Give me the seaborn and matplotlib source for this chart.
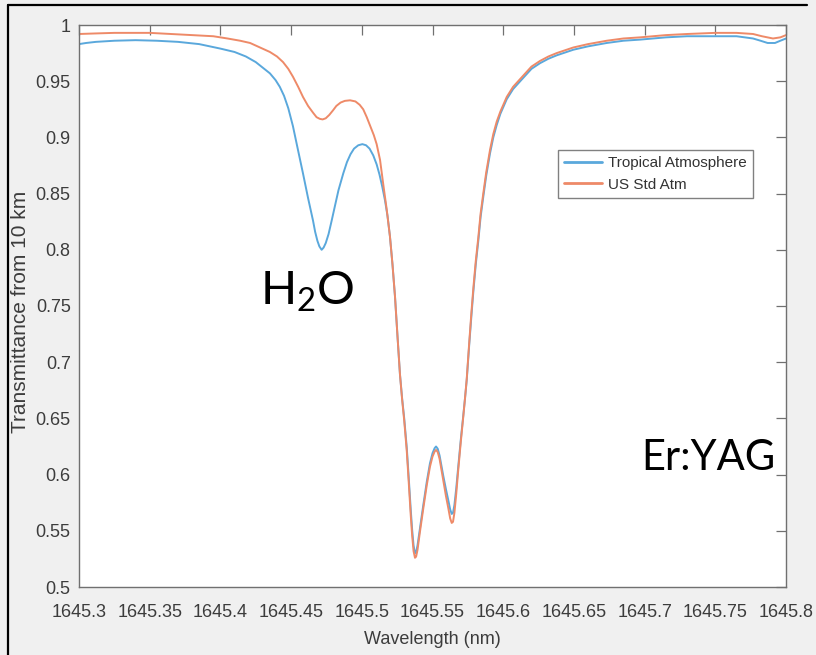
import numpy as np
import pandas as pd
import matplotlib
matplotlib.use("Agg")
import matplotlib.pyplot as plt
from matplotlib.lines import Line2D
import seaborn as sns

# Transmittance over a 10 km path near the 1645.5 nm Er:YAG line
tropical_nm = [
    1645.300, 1645.305, 1645.312, 1645.325, 1645.340, 1645.355, 1645.370,
    1645.385, 1645.400, 1645.410, 1645.418, 1645.425, 1645.430, 1645.435,
    1645.439, 1645.442, 1645.445, 1645.448, 1645.4513, 1645.4545, 1645.4584,
    1645.462, 1645.4655, 1645.467, 1645.4686, 1645.470, 1645.4716, 1645.473,
    1645.4745, 1645.4765, 1645.4787, 1645.481, 1645.4835, 1645.4869,
    1645.4895, 1645.492, 1645.4945, 1645.4975, 1645.5004, 1645.503,
    1645.5055, 1645.5081, 1645.5105, 1645.5125, 1645.5145, 1645.5164,
    1645.5182, 1645.5199, 1645.5217, 1645.5235, 1645.5252, 1645.527,
    1645.5285, 1645.530, 1645.5318, 1645.5332, 1645.5346, 1645.5356,
    1645.5366, 1645.5376, 1645.5384, 1645.5394, 1645.541, 1645.5435,
    1645.546, 1645.5482, 1645.550, 1645.5515, 1645.5525, 1645.5537,
    1645.555, 1645.5576, 1645.5595, 1645.5612, 1645.5625, 1645.5636,
    1645.5645, 1645.5655, 1645.5668, 1645.5682, 1645.570, 1645.5718,
    1645.573, 1645.5742, 1645.576, 1645.5775, 1645.5789, 1645.5806,
    1645.5824, 1645.584, 1645.5859, 1645.588, 1645.5907, 1645.593,
    1645.5954, 1645.598, 1645.6025, 1645.607, 1645.6142, 1645.620,
    1645.626, 1645.632, 1645.6378, 1645.6496, 1645.660, 1645.6732,
    1645.685, 1645.6968, 1645.715, 1645.730, 1645.750, 1645.765,
    1645.7767, 1645.782, 1645.787, 1645.7922, 1645.796, 1645.800,
]
tropical_t = [
    0.983, 0.984, 0.985, 0.986, 0.9865, 0.986, 0.985,
    0.983, 0.979, 0.976, 0.972, 0.967, 0.962, 0.957,
    0.951, 0.945, 0.937, 0.926, 0.910, 0.891, 0.868,
    0.846, 0.826, 0.816, 0.808, 0.803, 0.800, 0.802,
    0.806, 0.814, 0.826, 0.839, 0.853, 0.868,
    0.878, 0.885, 0.890, 0.893, 0.894, 0.893,
    0.890, 0.884, 0.876, 0.867, 0.856, 0.844,
    0.830, 0.812, 0.787, 0.758, 0.724, 0.689,
    0.668, 0.650, 0.624, 0.597, 0.569, 0.551,
    0.537, 0.530, 0.531, 0.537, 0.551, 0.573,
    0.594, 0.610, 0.619, 0.6235, 0.625, 0.623,
    0.617, 0.599, 0.587, 0.577, 0.569, 0.565,
    0.566, 0.573, 0.588, 0.607, 0.631, 0.653,
    0.668, 0.684, 0.716, 0.741, 0.763, 0.787,
    0.808, 0.829, 0.847, 0.866, 0.886, 0.900,
    0.911, 0.921, 0.934, 0.943, 0.953, 0.961,
    0.966, 0.970, 0.973, 0.978, 0.981, 0.984,
    0.986, 0.987, 0.989, 0.990, 0.990, 0.990,
    0.988, 0.986, 0.984, 0.984, 0.986, 0.988,
]

us_std_nm = [
    1645.300, 1645.312, 1645.325, 1645.350, 1645.365, 1645.380, 1645.395,
    1645.405, 1645.414, 1645.421, 1645.428, 1645.435, 1645.440, 1645.4443,
    1645.448, 1645.4513, 1645.455, 1645.4584, 1645.462, 1645.4655, 1645.468,
    1645.4703, 1645.4723, 1645.4745, 1645.477, 1645.4796, 1645.482,
    1645.485, 1645.488, 1645.4917, 1645.4955, 1645.4985, 1645.501,
    1645.5035, 1645.506, 1645.5085, 1645.5105, 1645.5129, 1645.5152,
    1645.5176, 1645.5199, 1645.5217, 1645.5235, 1645.5252, 1645.527,
    1645.5285, 1645.530, 1645.5318, 1645.5332, 1645.5346, 1645.5356,
    1645.5366, 1645.5376, 1645.5384, 1645.5394, 1645.541, 1645.5435,
    1645.546, 1645.5482, 1645.550, 1645.5515, 1645.5525, 1645.5537,
    1645.555, 1645.5576, 1645.5595, 1645.5612, 1645.5625, 1645.5636,
    1645.5645, 1645.5655, 1645.5668, 1645.5682, 1645.570, 1645.5718,
    1645.573, 1645.5742, 1645.576, 1645.5775, 1645.5789, 1645.5806,
    1645.5824, 1645.584, 1645.5859, 1645.588, 1645.5907, 1645.593,
    1645.5954, 1645.598, 1645.6025, 1645.607, 1645.6142, 1645.620,
    1645.626, 1645.632, 1645.6378, 1645.6496, 1645.660, 1645.6732,
    1645.685, 1645.6968, 1645.715, 1645.730, 1645.750, 1645.765,
    1645.7767, 1645.783, 1645.7908, 1645.796, 1645.800,
]
us_std_t = [
    0.992, 0.9925, 0.993, 0.993, 0.992, 0.991, 0.990,
    0.988, 0.986, 0.984, 0.980, 0.976, 0.972, 0.967,
    0.961, 0.954, 0.945, 0.936, 0.928, 0.922, 0.918,
    0.9165, 0.916, 0.917, 0.920, 0.924, 0.928,
    0.931, 0.9325, 0.933, 0.932, 0.929, 0.925,
    0.918, 0.910, 0.902, 0.894, 0.880, 0.858,
    0.836, 0.812, 0.787, 0.758, 0.724, 0.689,
    0.667, 0.648, 0.621, 0.593, 0.564, 0.546,
    0.532, 0.526, 0.527, 0.533, 0.548, 0.570,
    0.591, 0.607, 0.616, 0.6205, 0.622, 0.620,
    0.614, 0.595, 0.581, 0.570, 0.561, 0.557,
    0.558, 0.566, 0.583, 0.604, 0.629, 0.652,
    0.668, 0.685, 0.718, 0.744, 0.766, 0.790,
    0.811, 0.832, 0.850, 0.869, 0.889, 0.903,
    0.914, 0.923, 0.936, 0.945, 0.955, 0.963,
    0.968, 0.972, 0.975, 0.980, 0.983, 0.986,
    0.988, 0.989, 0.991, 0.992, 0.993, 0.993,
    0.992, 0.990, 0.988, 0.989, 0.991,
]

series_names = ["Tropical Atmosphere", "US Std Atm"]
series_colors = ["#5aa8dc", "#ee8a68"]

x_ticks = [1645.3, 1645.35, 1645.4, 1645.45, 1645.5, 1645.55,
           1645.6, 1645.65, 1645.7, 1645.75, 1645.8]
x_tick_labels = ["1645.3", "1645.35", "1645.4", "1645.45", "1645.5",
                 "1645.55", "1645.6", "1645.65", "1645.7", "1645.75",
                 "1645.8"]
y_ticks = [0.5, 0.55, 0.6, 0.65, 0.7, 0.75, 0.8, 0.85, 0.9, 0.95, 1.0]
y_tick_labels = ["0.5", "0.55", "0.6", "0.65", "0.7", "0.75", "0.8",
                 "0.85", "0.9", "0.95", "1"]

df = pd.concat([
    pd.DataFrame({"nm": tropical_nm, "T": tropical_t, "series": series_names[0]}),
    pd.DataFrame({"nm": us_std_nm, "T": us_std_t, "series": series_names[1]}),
], ignore_index=True)

sns.set_style("white")
plt.rcParams["font.family"] = ["Liberation Sans", "DejaVu Sans"]
plt.rcParams["mathtext.fontset"] = "custom"
plt.rcParams["mathtext.rm"] = "Lato"

W, H = 816, 655
fig = plt.figure(figsize=(W / 100, H / 100), dpi=100, facecolor="#f0f0f0")
ax = fig.add_axes([79 / W, 1 - 587 / H, (786 - 79) / W, (587 - 25) / H])
ax.set_facecolor("white")

sns.lineplot(data=df, x="nm", y="T", hue="series", hue_order=series_names,
             palette=series_colors, linewidth=1.4, estimator=None, sort=False,
             ax=ax, legend=False)

ax.set_xlim(1645.3, 1645.8)
ax.set_ylim(0.5, 1.0)
ax.set_xticks(x_ticks)
ax.set_xticklabels(x_tick_labels)
ax.set_yticks(y_ticks)
ax.set_yticklabels(y_tick_labels)

tick_color = "#707070"
label_color = "#3c3c3c"
ax.tick_params(axis="both", direction="in", length=7, width=0.9,
               top=True, right=True, color=tick_color,
               labelcolor=label_color, labelsize=13)
ax.tick_params(axis="x", pad=12)
ax.tick_params(axis="y", pad=6)
for sp in ax.spines.values():
    sp.set_color(tick_color)
    sp.set_linewidth(1.0)

ax.set_xlabel("Wavelength (nm)", fontsize=13, color=label_color, va="center")
ax.xaxis.set_label_coords(0.5, (587 - 640) / 562)
ax.set_ylabel("Transmittance from 10 km", fontsize=15, color=label_color,
              va="center")
ax.yaxis.set_label_coords((21 - 79) / 707, 0.49)

handles = [Line2D([], [], color=c, linewidth=2.0) for c in series_colors]
leg = ax.legend(handles, series_names, loc="upper left",
                bbox_to_anchor=(558 / W, 1 - 150 / H),
                bbox_transform=fig.transFigure, fontsize=11,
                frameon=True, fancybox=False, framealpha=1,
                edgecolor="#808080", handlelength=2.5, handletextpad=0.35,
                borderpad=0.4, labelspacing=0.5, borderaxespad=0)
leg.get_frame().set_linewidth(1.0)
for t in leg.get_texts():
    t.set_color("#333333")

fig.text(307 / W, 1 - 305 / H, r"H$_2$O", ha="center", va="baseline",
         fontsize=34, family="Lato", color="black")
fig.text(641 / W, 1 - 470 / H, "Er:YAG", ha="left", va="baseline",
         fontsize=30, family="Lato", color="black")

# page frame lines along the top and left edges
fig.add_artist(Line2D([8 / W, 807 / W], [1 - 5 / H, 1 - 5 / H],
                      color="black", linewidth=1.6, transform=fig.transFigure))
fig.add_artist(Line2D([8 / W, 8 / W], [0, 1 - 5 / H],
                      color="black", linewidth=1.6, transform=fig.transFigure))

fig.savefig("out.png", dpi=100, facecolor=fig.get_facecolor())
